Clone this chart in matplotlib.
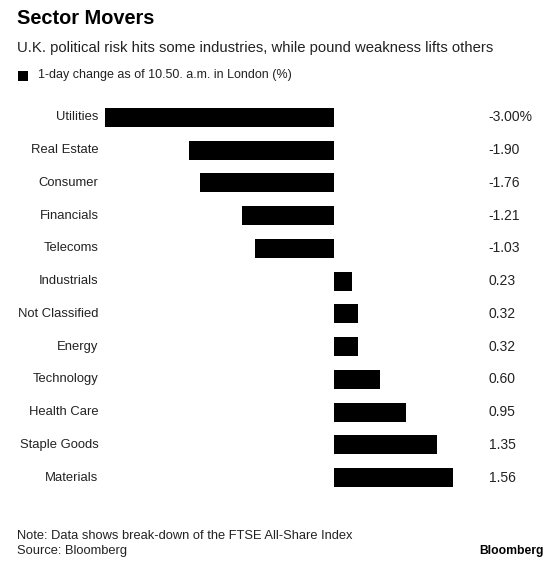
import matplotlib.pyplot as plt
from matplotlib.patches import Rectangle

sectors = ["Utilities", "Real Estate", "Consumer", "Financials", "Telecoms",
           "Industrials", "Not Classified", "Energy", "Technology",
           "Health Care", "Staple Goods", "Materials"]
changes = [-3.00, -1.90, -1.76, -1.21, -1.03, 0.23, 0.32, 0.32, 0.60, 0.95, 1.35, 1.56]
value_labels = ["-3.00%", "-1.90", "-1.76", "-1.21", "-1.03", "0.23", "0.32",
                "0.32", "0.60", "0.95", "1.35", "1.56"]

plt.rcParams['font.family'] = ['Liberation Sans', 'DejaVu Sans']

W, H = 560, 565
SX = 560 / 535  # source chart is 535px wide, stretch to 560
fig = plt.figure(figsize=(W / 100, H / 100), dpi=100)


def px(x, y):
    # source pixel coords (from top-left) -> figure fraction
    return x * SX / W, 1 - y / H


# axes placed so that -3.00 starts ~100px and 1.56 ends ~433px (source px)
left, right = 100.5, 432.7
top, bottom = 101.1, 493.9
ax = fig.add_axes([left * SX / W, 1 - bottom / H,
                   (right - left) * SX / W, (bottom - top) / H])
ypos = list(range(len(sectors)))
ax.barh(ypos, changes, height=0.58, color="black")
ax.set_xlim(min(changes), max(changes))
ax.set_ylim(len(sectors) - 0.5, -0.5)
ax.axis("off")

# category labels and values: x in axes fraction, y in data
for i, (name, lab) in enumerate(zip(sectors, value_labels)):
    ax.text((94 - left) / (right - left), i, name,
            transform=ax.get_yaxis_transform(), ha="right", va="center",
            fontsize=9.4, color="#222222")
    ax.text((467 - left) / (right - left), i, lab,
            transform=ax.get_yaxis_transform(), ha="left", va="center",
            fontsize=10, color="#222222")

# title block
fig.text(*px(16, 19), "Sector Movers", fontsize=14.4, fontweight="bold",
         va="center", ha="left", color="black")
fig.text(*px(16, 48), "U.K. political risk hits some industries, while pound weakness lifts others",
         fontsize=10.7, va="center", ha="left", color="#222222")

# legend
fx, fy = px(17, 81)
fig.patches.append(Rectangle((fx, fy), 10.5 / W, 10 / H, transform=fig.transFigure,
                             facecolor="black", edgecolor="none"))
fig.text(*px(36, 75), "1-day change as of 10.50. a.m. in London (%)",
         fontsize=9.0, va="center", ha="left", color="#222222")

# footer
fig.text(*px(16, 536), "Note: Data shows break-down of the FTSE All-Share Index",
         fontsize=9.3, va="center", ha="left", color="#222222")
fig.text(*px(16, 551), "Source: Bloomberg",
         fontsize=9.3, va="center", ha="left", color="#222222")
fig.text(*px(519, 551), "Bloomberg", fontsize=8.7, fontweight="bold",
         va="center", ha="right", color="black")

fig.savefig("out.png", dpi=100)
